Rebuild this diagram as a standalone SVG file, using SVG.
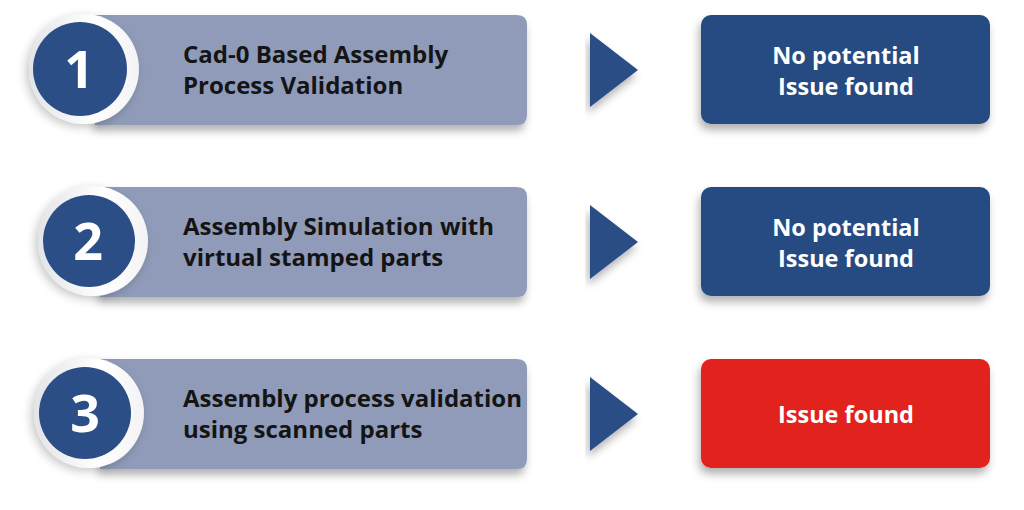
<svg xmlns="http://www.w3.org/2000/svg" width="1024" height="510" viewBox="0 0 1024 510">
<defs>
<filter id="sh" x="-10%" y="-20%" width="125%" height="160%">
<feDropShadow dx="-2" dy="6" stdDeviation="4" flood-color="#000" flood-opacity="0.3"/>
</filter>
<filter id="halo" x="-30%" y="-30%" width="160%" height="160%">
<feDropShadow dx="-3" dy="3" stdDeviation="5" flood-color="#000" flood-opacity="0.22"/>
</filter>
<linearGradient id="hg" x1="0" y1="0" x2="1" y2="0">
<stop offset="0" stop-color="#e3e4e8"/>
<stop offset="0.6" stop-color="#ffffff"/>
<stop offset="1" stop-color="#f3f3f5"/>
</linearGradient>
<style>
.bar{fill:#8f9bb8}
.num{fill:#2b4e86}
.box{fill:#264b82}
.red{fill:#e2231f}
.tri{fill:#2b4e86}
.lt{font-family:"Open Sans","Liberation Sans",sans-serif;font-weight:700;font-size:24px;fill:#141414}
.rt{font-family:"Open Sans","Liberation Sans",sans-serif;font-weight:700;font-size:23.5px;fill:#ffffff;text-anchor:middle}
.nt{font-family:"Open Sans","Liberation Sans",sans-serif;font-weight:700;font-size:52px;fill:#ffffff;text-anchor:middle}
</style>
</defs>
<rect width="1024" height="510" fill="#ffffff"/>

<g id="step1">
<path class="bar" d="M95 15 H517 Q527 15 527 25 V115 Q527 125 517 125 H95 Z" filter="url(#sh)"/>
<circle cx="84" cy="69" r="55" fill="url(#hg)" filter="url(#halo)"/>
<circle class="num" cx="80" cy="69" r="47"/>
<text class="nt" x="79" y="88">1</text>
<text class="lt" x="183" y="63">Cad-0 Based Assembly</text>
<text class="lt" x="183" y="94">Process Validation</text>
</g>

<g id="step2">
<path class="bar" d="M100 187 H517 Q527 187 527 197 V287 Q527 297 517 297 H100 Z" filter="url(#sh)"/>
<circle cx="93" cy="241" r="55" fill="url(#hg)" filter="url(#halo)"/>
<circle class="num" cx="89" cy="241" r="46"/>
<text class="nt" x="88" y="260">2</text>
<text class="lt" x="183" y="235">Assembly Simulation with</text>
<text class="lt" x="183" y="266">virtual stamped parts</text>
</g>

<g id="step3">
<path class="bar" d="M100 359 H517 Q527 359 527 369 V459 Q527 469 517 469 H100 Z" filter="url(#sh)"/>
<circle cx="89" cy="413" r="55" fill="url(#hg)" filter="url(#halo)"/>
<circle class="num" cx="85" cy="413" r="46"/>
<text class="nt" x="85" y="432">3</text>
<text class="lt" x="183" y="407">Assembly process validation</text>
<text class="lt" x="183" y="438">using scanned parts</text>
</g>

<g id="connectors">
<polygon class="tri" points="590,33 638,70 590,107" filter="url(#sh)"/>
<polygon class="tri" points="590,205 638,242 590,279" filter="url(#sh)"/>
<polygon class="tri" points="590,377 638,414 590,451" filter="url(#sh)"/>
</g>

<g id="result1">
<rect class="box" x="701" y="15" width="289" height="109" rx="10" filter="url(#sh)"/>
<text class="rt" x="846" y="64">No potential</text>
<text class="rt" x="846" y="95">Issue found</text>
</g>

<g id="result2">
<rect class="box" x="701" y="187" width="289" height="109" rx="10" filter="url(#sh)"/>
<text class="rt" x="846" y="236">No potential</text>
<text class="rt" x="846" y="267">Issue found</text>
</g>

<g id="result3">
<rect class="red" x="701" y="359" width="289" height="109" rx="10" filter="url(#sh)"/>
<text class="rt" x="846" y="423">Issue found</text>
</g>
</svg>
